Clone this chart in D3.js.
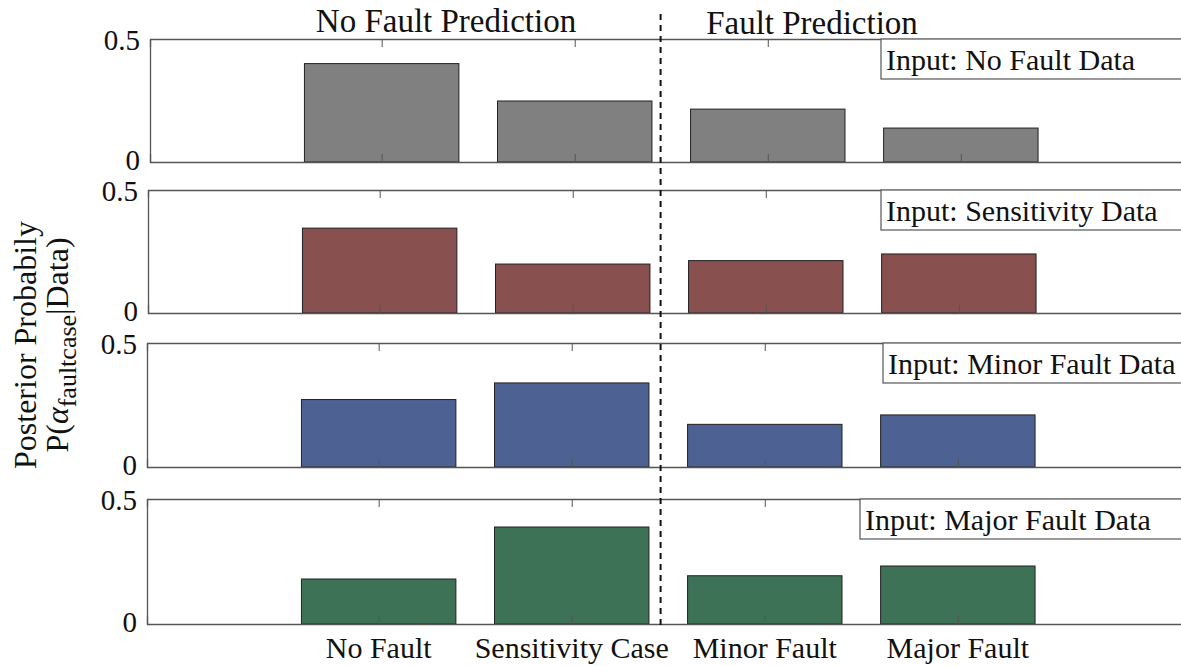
<!DOCTYPE html>
<html>
<head>
<meta charset="utf-8">
<script src="https://cdn.jsdelivr.net/npm/d3@7"></script>
<style>
  html, body { margin: 0; padding: 0; background: #fff; }
  svg { display: block; }
  svg text { font-family: "Liberation Serif", "Times New Roman", serif; }
</style>
</head>
<body>
<svg id="chart" width="1181" height="666"></svg>
<script>
// ---- data ----
const categories = ["No Fault", "Sensitivity Case", "Minor Fault", "Major Fault"];
const panelInputs = ["Input: No Fault Data", "Input: Sensitivity Data", "Input: Minor Fault Data", "Input: Major Fault Data"];
const noFaultInput     = [0.400, 0.248, 0.215, 0.138];
const sensitivityInput = [0.345, 0.199, 0.213, 0.240];
const minorFaultInput  = [0.272, 0.339, 0.172, 0.210];
const majorFaultInput  = [0.180, 0.388, 0.193, 0.232];
const seriesValues = [noFaultInput, sensitivityInput, minorFaultInput, majorFaultInput];
const yTicks = [0, 0.5];
const groupTitles = ["No Fault Prediction", "Fault Prediction"];
const dividerPosition = 2.45; // position of dashed divider (category index units)

// ---- layout ----
const colors = ["#808080", "#88504f", "#4d6293", "#3d7257"];
const panels = [
  { top: 39,  bottom: 162, left: 150, legendX: 881 },
  { top: 190, bottom: 313, left: 148, legendX: 881 },
  { top: 343, bottom: 467, left: 147, legendX: 883 },
  { top: 499, bottom: 624, left: 147, legendX: 860 }
];
const svg = d3.select("#chart");
const axisColor = "#555";

panels.forEach((p, i) => {
  const shift = p.left - 150;
  const x = d3.scaleLinear().domain([-0.2, 5.2]).range([150 + shift, 1192.5 + shift]);
  const y = d3.scaleLinear().domain([0, 0.5]).range([p.bottom, p.top]);
  const g = svg.append("g");
  const bw = x(0.8) - x(0);

  // bars
  g.selectAll("rect.bar").data(seriesValues[i]).join("rect")
    .attr("class", "bar")
    .attr("x", (d, j) => x(j + 1) - bw / 2)
    .attr("y", d => y(d))
    .attr("width", bw)
    .attr("height", d => y(0) - y(d))
    .attr("fill", colors[i])
    .attr("stroke", "#222")
    .attr("stroke-width", 1);

  // axes box: bottom, top, left
  const xAxisB = d3.axisBottom(x).tickValues([1, 2, 3, 4]).tickSize(-8).tickFormat("");
  const xAxisT = d3.axisTop(x).tickValues([1, 2, 3, 4]).tickSize(-8).tickFormat("");
  const gb = g.append("g").attr("transform", `translate(0,${p.bottom})`).call(xAxisB);
  const gt = g.append("g").attr("transform", `translate(0,${p.top})`).call(xAxisT);
  [gb, gt].forEach(a => {
    a.select(".domain").attr("stroke", axisColor).attr("stroke-width", 1.3);
    a.selectAll(".tick line").attr("stroke", axisColor);
  });
  const yAxis = d3.axisLeft(y).tickValues(yTicks).tickSize(0).tickPadding(10)
    .tickFormat(d => d === 0 ? "0" : d3.format(".1f")(d));
  const gl = g.append("g").attr("transform", `translate(${x(-0.2)},0)`).call(yAxis)
    .attr("font-family", null).attr("font-size", null);
  gl.select(".domain").attr("stroke", axisColor).attr("stroke-width", 1.3);
  gl.selectAll(".tick text")
    .attr("font-size", 29).attr("fill", "#111")
    .attr("dy", (d) => d === 0 ? "0.25em" : "0.36em");

  // legend box
  const lg = g.append("g");
  lg.append("rect")
    .attr("x", p.legendX).attr("y", p.top)
    .attr("width", 1181 - p.legendX + 10).attr("height", 40)
    .attr("fill", "#fff").attr("stroke", axisColor).attr("stroke-width", 1.2);
  lg.append("text")
    .attr("x", p.legendX + 5).attr("y", p.top + 31)
    .attr("font-size", 30).attr("fill", "#111")
    .text(panelInputs[i]);

  // x labels for bottom panel
  if (i === panels.length - 1) {
    g.selectAll("text.xl").data(categories).join("text")
      .attr("class", "xl")
      .attr("x", (d, j) => x(j + 1))
      .attr("y", 658)
      .attr("text-anchor", "middle")
      .attr("font-size", 30).attr("fill", "#111")
      .text(d => d);
  }
});

// dashed divider
const xDiv = d3.scaleLinear().domain([-0.2, 5.2]).range([149, 1191.5]);
svg.append("line")
  .attr("x1", xDiv(dividerPosition)).attr("x2", xDiv(dividerPosition))
  .attr("y1", 14).attr("y2", 626)
  .attr("stroke", "#111").attr("stroke-width", 2)
  .attr("stroke-dasharray", "6,5");

// group titles
svg.append("text").attr("x", 446).attr("y", 32).attr("text-anchor", "middle")
  .attr("font-size", 33).attr("fill", "#111").text(groupTitles[0]);
svg.append("text").attr("x", 812).attr("y", 34).attr("text-anchor", "middle")
  .attr("font-size", 33).attr("fill", "#111").text(groupTitles[1]);

// y label (two lines, rotated)
const yl = svg.append("g").attr("transform", "translate(0,345) rotate(-90)");
yl.append("text").attr("x", 0).attr("y", 36).attr("text-anchor", "middle")
  .attr("font-size", 32).attr("fill", "#111").text("Posterior Probabily");
const t2 = yl.append("text").attr("x", 0).attr("y", 68).attr("text-anchor", "middle")
  .attr("font-size", 32).attr("fill", "#111");
t2.append("tspan").text("P(");
t2.append("tspan").attr("font-style", "italic").text("α");
t2.append("tspan").attr("font-size", 26).attr("dy", 8).text("faultcase");
t2.append("tspan").attr("dy", -8).text("|Data)");
</script>
</body>
</html>
